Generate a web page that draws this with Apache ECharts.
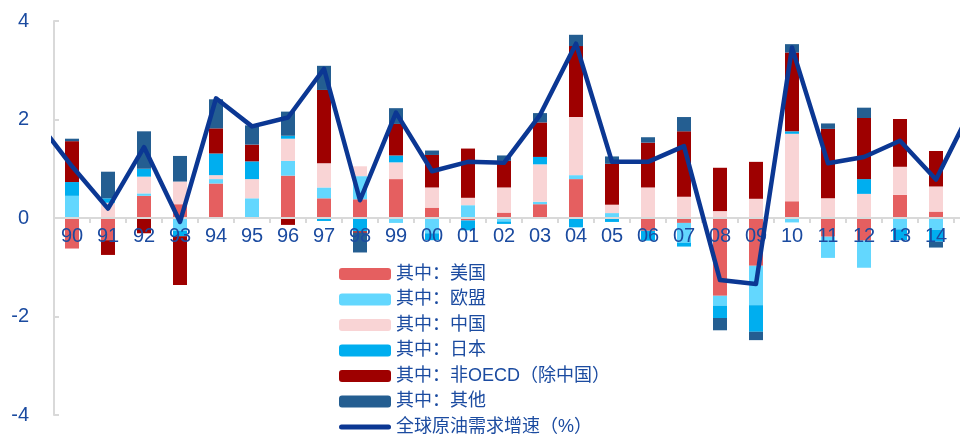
<!DOCTYPE html>
<html>
<head>
<meta charset="utf-8">
<script src="https://cdn.jsdelivr.net/npm/echarts@6/dist/echarts.min.js"></script>
<style>
html,body{margin:0;padding:0;background:#fff;}
#chart{width:960px;height:434px;}
</style>
</head>
<body>
<div id="chart"></div>
<script>
// Categories (years) for bars
const years = ['90','91','92','93','94','95','96','97','98','99','00','01','02','03','04','05','06','07','08','09','10','11','12','13','14','15'];
// Line years include one year before and after the visible bars
const lineYears = ['89','90','91','92','93','94','95','96','97','98','99','00','01','02','03','04','05','06','07','08','09','10','11','12','13','14','15'];

const usData    = [-0.62,-0.45,0.45,0.28,0.70,0,0.86,0.40,0.38,0.79,0.21,-0.05,0.11,0.28,0.79,0.02,-0.26,-0.10,-1.58,-0.97,0.34,-0.38,-0.46,0.47,0.13,null];
const euData    = [0.45,0,0.05,-0.26,0.09,0.40,0.30,0.22,0.47,-0.10,-0.31,0.26,-0.07,0.05,0.08,0.08,0,-0.40,-0.20,-0.80,-0.09,-0.43,-0.55,-0.23,-0.24,null];
const cnData    = [0,0.31,0.34,0.46,0.08,0.39,0.45,0.49,0.20,0.34,0.41,0.15,0.51,0.76,1.18,0.17,0.62,0.43,0.14,0.39,1.37,0.40,0.49,0.57,0.51,null];
const jpData    = [0.28,0.09,0.16,-0.11,0.44,0.36,0.06,-0.06,-0.27,0.14,-0.14,-0.20,-0.05,0.15,-0.19,-0.08,-0.20,-0.08,-0.25,-0.54,0.05,0,0.30,-0.22,-0.24,null];
const nonOecd   = [0.83,-0.30,-0.31,-0.99,0.51,0.34,-0.14,1.49,-0.03,0.64,0.66,1.00,0.54,0.70,1.44,0.83,0.91,1.33,0.88,0.75,1.60,1.41,1.24,0.97,0.72,null];
const otherData = [0.05,0.54,0.76,0.52,0.59,0.39,0.49,0.49,-0.40,0.32,0.09,0,0.11,0.19,0.23,0.15,0.11,0.29,-0.25,-0.17,0.17,0.11,0.21,0,-0.12,null];
const growth    = [2.0,1.05,0.19,1.44,-0.08,2.43,1.86,2.04,3.03,0.36,2.14,0.95,1.14,1.12,2.09,3.54,1.14,1.14,1.46,-1.26,-1.34,3.46,1.11,1.24,1.57,0.78,2.24];

const yTicks = [-4,-2,0,2,4];

const names = ['其中：美国','其中：欧盟','其中：中国','其中：日本','其中：非OECD（除中国）','其中：其他'];
const lineName = '全球原油需求增速（%）';
const colors = ['#E55F60','#63D7FE','#F9D4D5','#00AEEF','#9E0000','#245E91'];
const barSets = [usData, euData, cnData, jpData, nonOecd, otherData];

const navy = '#1B4BA0';
const lineColor = '#0B3793';
const font = '"Liberation Sans", Arial, "Noto Sans CJK SC", sans-serif';

const gridH = 394;
const gridBox = { left: 54, top: 21, width: 936, height: gridH, containLabel: false, outerBoundsMode: 'none' };
const yMin = yTicks[0], yMax = yTicks[yTicks.length - 1];
// place category axis at value 0 of the y scale
const zeroOffset = -((0 - yMin) / (yMax - yMin)) * gridH;

const series = barSets.map((d, i) => ({
  name: names[i],
  type: 'bar',
  stack: 'total',
  xAxisIndex: 0,
  yAxisIndex: 0,
  barWidth: 14,
  data: d,
  itemStyle: { color: colors[i] },
  z: 2
}));

series.push({
  name: lineName,
  type: 'line',
  xAxisIndex: 1,
  yAxisIndex: 1,
  data: growth.map((v, i) => [i - 1, v]),
  symbol: 'none',
  showSymbol: false,
  clip: false,
  lineStyle: { color: lineColor, width: 4.5, join: 'round' },
  itemStyle: { color: lineColor },
  z: 10
});

const legendData = names.map(n => ({ name: n })).concat([{
  name: lineName,
  icon: 'path://M2.5,0 L49.5,0 A2.5,2.5 0 0 1 49.5,5 L2.5,5 A2.5,2.5 0 0 1 2.5,0 Z',
  itemStyle: { color: lineColor }
}]);

const chart = echarts.init(document.getElementById('chart'), null, { renderer: 'canvas' });
chart.setOption({
  animation: false,
  textStyle: { fontFamily: font },
  grid: [Object.assign({}, gridBox), Object.assign({}, gridBox)],
  legend: {
    orient: 'vertical',
    left: 334,
    top: 260,
    height: 180,
    itemWidth: 52,
    itemHeight: 12,
    itemGap: 7.5,
    textStyle: { color: navy, fontSize: 18, fontFamily: font, lineHeight: 18 },
    data: legendData
  },
  xAxis: [
    {
      type: 'category',
      gridIndex: 0,
      data: years,
      position: 'bottom',
      offset: zeroOffset,
      z: 5,
      axisLine: { onZero: false, lineStyle: { color: '#D9D9D9', width: 2 } },
      axisTick: { show: true, length: 5, lineStyle: { color: '#D9D9D9', width: 2 } },
      axisLabel: { color: navy, fontSize: 20, margin: 8, interval: 0, fontFamily: font, lineHeight: 20 },
      splitLine: { show: false }
    },
    {
      type: 'value',
      gridIndex: 1,
      min: -0.5,
      max: 25.5,
      show: false
    }
  ],
  yAxis: [
    {
      type: 'value',
      gridIndex: 0,
      min: yMin,
      max: yMax,
      interval: 2,
      axisLine: { show: true, onZero: false, lineStyle: { color: '#D9D9D9', width: 2 } },
      axisTick: { show: true, inside: true, length: 5, lineStyle: { color: '#D9D9D9', width: 2 } },
      axisLabel: { color: navy, fontSize: 20, margin: 25, fontFamily: font },
      splitLine: { show: false }
    },
    {
      type: 'value',
      gridIndex: 1,
      min: yMin,
      max: yMax,
      show: false
    }
  ],
  series: series
});
</script>
</body>
</html>
